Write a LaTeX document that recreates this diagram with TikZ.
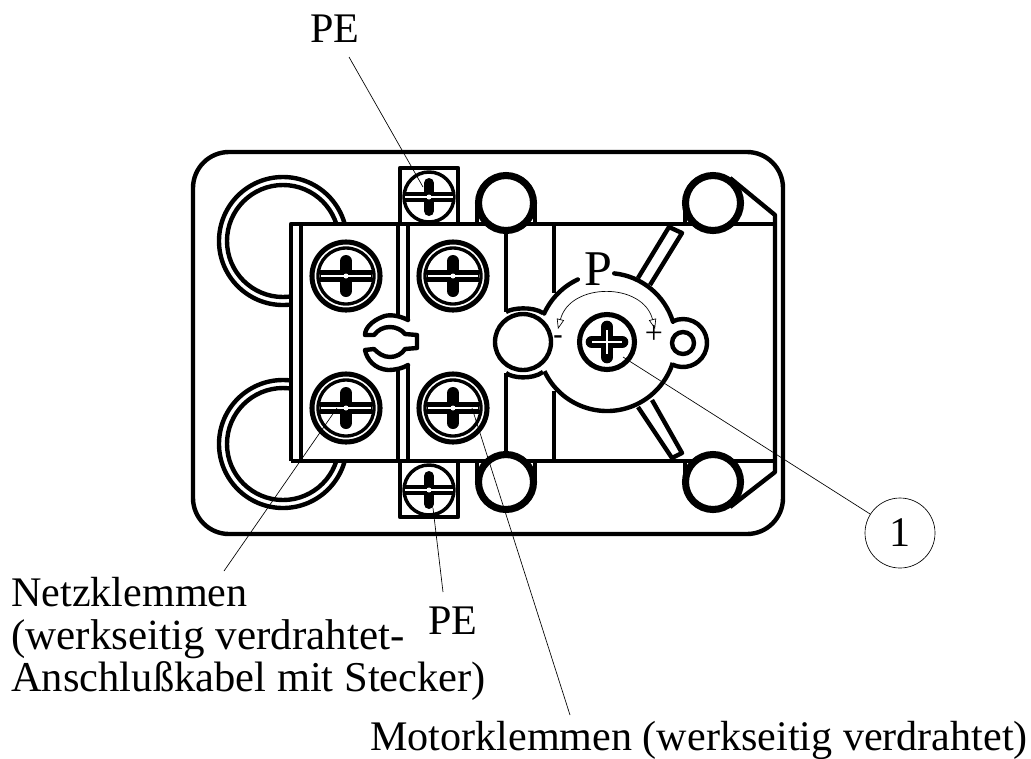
\documentclass[tikz,border=0pt]{standalone}
\usepackage{fontspec}
\setmainfont{Liberation Serif}
\usetikzlibrary{arrows.meta}

\tikzset{
    heavy/.style={line width=3.3pt},
    medium/.style={line width=2.6pt},
    leader/.style={line width=0.5pt},
    caption/.style={inner sep=0pt, anchor=base west, font=\fontsize{31.6pt}{31.9pt}\selectfont},
}

\begin{document}
\begin{tikzpicture}[x=0.75pt, y=0.75pt, yscale=-1, line join=round]

    \useasboundingbox (0,0) rectangle (1031,758);

    % Define the centers, measured in pixels of the drawing
    \coordinate (NetzA) at (346,276);
    \coordinate (NetzB) at (346,408);
    \coordinate (MotorA) at (453,276);
    \coordinate (MotorB) at (453,408);
    \coordinate (EarthA) at (429,197);
    \coordinate (EarthB) at (429,490);
    \coordinate (Disk) at (607,342);
    \coordinate (Lug) at (683,343);
    \coordinate (Knob) at (523,342);

    % 1. Housing with rounded corners
    \draw[heavy] (193,188) arc (180:270:36) -- (747,152) arc (270:360:36)
        -- (783,498) arc (0:90:36) -- (229,534) arc (90:180:36) -- cycle;

    % 2. Cable openings, the plate hides their right part
    \foreach \y in {241,444} {
        \draw[heavy] (283,\y) circle (64);
        \draw[heavy] (283,\y) circle (56);
    }
    \fill[white] (291,224) rectangle (775,461);

    % 3. Plate outline with the chamfered ends
    \draw[heavy] (291,461) -- (291,224) -- (775,224);
    \draw[heavy] (291,461) -- (775,461);
    \draw[heavy] (730,178) -- (775,215) -- (775,472) -- (730,507);
    \draw[heavy] (301,224) -- (301,461);

    % 4. Terminal block divider and the slot between the terminals
    \draw[heavy] (398,224) -- (398,317);
    \draw[heavy] (408,224) -- (408,320);
    \draw[heavy] (398,368) -- (398,461);
    \draw[heavy] (408,365) -- (408,461);
    \draw[heavy, line cap=round] (408,320) .. controls (398,315) and (388,314) .. (382,317)
        .. controls (372,321) and (365,328) .. (365,335) -- (374,335)
        .. controls (378,330) and (383,327) .. (390,327)
        .. controls (396,327) and (402,330) .. (405,334) -- (417,335) -- (417,348) -- (405,349)
        .. controls (402,354) and (396,357) .. (390,357)
        .. controls (383,357) and (378,353) .. (374,349) -- (365,350)
        .. controls (367,360) and (375,369) .. (388,370)
        .. controls (396,370) and (403,368) .. (408,365);

    % 5. Mains and motor terminals
    \foreach \s in {NetzA,NetzB,MotorA,MotorB} {
        \draw[line width=3.8pt] (\s) circle (34);
        \draw[line width=2.5pt] (\s) circle (28);
        \draw[line width=9pt] (\s) ++(-26,0) -- ++(52,0);
        \draw[line width=9pt, line cap=round] (\s) ++(0,-15) -- ++(0,30);
        \draw[white, line width=1.8pt] (\s) ++(-25,0) -- ++(50,0);
        \fill[white] (\s) circle (2.5);
    }

    % 6. Earth terminals in their square frames
    \draw[heavy] (400,224) -- (400,168) -- (458,168) -- (458,224);
    \draw[heavy] (400,461) -- (400,517) -- (458,517) -- (458,461);
    \foreach \s in {EarthA,EarthB} {
        \draw[medium] (\s) circle (25);
        \draw[line width=7.5pt] (\s) ++(-25,0) -- ++(50,0);
        \draw[line width=7.5pt, line cap=round] (\s) ++(0,-14) -- ++(0,28);
        \draw[white, line width=1.6pt] (\s) ++(-24,0) -- ++(48,0);
        \fill[white] (\s) circle (2.5);
    }

    % 7. Corner posts
    \draw[medium] (477,203) -- (477,224);
    \draw[medium] (535,203) -- (535,224);
    \draw[medium] (477,461) -- (477,482);
    \draw[medium] (535,461) -- (535,482);
    \draw[medium] (685,203) -- (685,224);
    \draw[medium] (685,461) -- (685,482);
    \foreach \x in {506,713} {
        \draw[line width=5.3pt, fill=white] (\x,203) circle (27.5);
        \draw[line width=5.3pt, fill=white] (\x,482) circle (27.5);
    }

    % 8. Guide lines from the posts down to the knob
    \draw[heavy] (506,231) -- (506,312);
    \draw[heavy] (554,224) -- (554,293);
    \draw[heavy] (506,373) -- (506,454);
    \draw[heavy] (554,391) -- (554,461);

    % 9. Adjusting knob with its cap arcs
    \draw[heavy] (Knob) circle (28);
    \draw[heavy] (506,312) .. controls (512,308) and (532,306) .. (543,313);
    \draw[heavy] (506,373) .. controls (512,378) and (532,380) .. (543,372);

    % 10. Pressure disk: left arc, lower arc, lug and right arc
    \draw[heavy, line cap=round] (Disk) ++(245:69) arc (245:204.4:69);
    \draw[heavy] (Disk) ++(155:69) arc (155:17.6:69);
    \draw[heavy] (Lug) ++(116:24) arc (116:-115:24);
    \draw[heavy, line cap=round] (Disk) ++(-17:69) arc (-17:-84:69);
    \draw[heavy] (Lug) circle (11);

    % 11. Disk arms
    \draw[heavy] (638,278) -- (669,227) -- (682,233) -- (650,285);
    \draw[heavy] (638,407) -- (672,458) -- (682,453) -- (652,400);

    % 12. Center screw
    \draw[line width=3.8pt] (Disk) circle (27.5);
    \draw[line width=9.5pt, line cap=round] (Disk) ++(-15,0) -- ++(30,0);
    \draw[line width=9.5pt, line cap=round] (Disk) ++(0,-15) -- ++(0,30);
    \draw[white, line width=1.2pt] (Disk) ++(-15,0) -- ++(30,0);
    \draw[white, line width=1pt] (Disk) ++(0,-12) -- ++(0,24);

    % 13. Turning direction and its marks
    \draw[leader, {Triangle[open,length=7.5pt,width=5.5pt]}-{Triangle[open,length=7.5pt,width=5.5pt]}]
        (558,329) .. controls (570,282) and (643,282) .. (655,329);
    \node (minus) at (558,340) {\fontsize{21pt}{21pt}\selectfont\bfseries -};
    \node (plus) at (654,334) {\fontsize{24pt}{24pt}\selectfont +};
    \node[caption, font=\fontsize{37.5pt}{37.5pt}\selectfont] (pressure) at (584,285) {P};

    % 14. Labels, each at its baseline
    \node[caption] (earthTop) at (310,42) {PE};
    \node[caption] (earthBottom) at (428,634) {PE};
    \node[caption] (netz) at (11,606) {Netzklemmen};
    \node[caption, font=\fontsize{32.3pt}{32pt}\selectfont] (netzB) at (11,649) {(werkseitig verdrahtet-};
    \node[caption, font=\fontsize{31.9pt}{32pt}\selectfont] (netzC) at (11,691) {Anschlußkabel mit Stecker)};
    \node[caption] (motor) at (370,750) {Motorklemmen (werkseitig verdrahtet)};
    \node[circle, draw, line width=0.5pt, minimum size=52.5pt, inner sep=0pt,
        font=\fontsize{31.6pt}{31.9pt}\selectfont] (numOne) at (900,533) {1};

    % 15. Leader lines
    \coordinate (earthTopEnd) at (349,57);
    \coordinate (earthTopTip) at (423,187);
    \coordinate (netzEnd) at (224,571);
    \coordinate (netzTip) at (337,408);
    \coordinate (earthBottomEnd) at (443,592);
    \coordinate (earthBottomTip) at (433,508);
    \coordinate (motorEnd) at (570,715);
    \coordinate (motorTip) at (472,408);
    \coordinate (numOneTip) at (623,357);
    \draw[leader] (earthTopEnd) -- (earthTopTip);
    \draw[leader] (netzEnd) -- (netzTip);
    \draw[leader] (earthBottomEnd) -- (earthBottomTip);
    \draw[leader] (motorEnd) -- (motorTip);
    \draw[leader] (numOneTip) -- (numOne);

\end{tikzpicture}
\end{document}
